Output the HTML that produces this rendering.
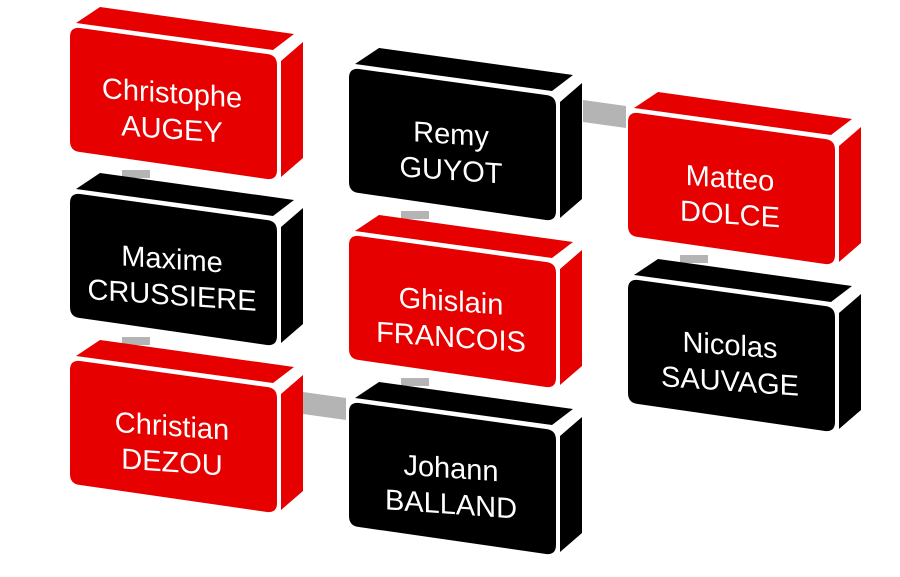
<!DOCTYPE html>
<html><head><meta charset="utf-8"><style>html,body{margin:0;padding:0;background:#fff}svg{display:block}</style></head>
<body>
<svg width="900" height="577" viewBox="0 0 900 577" xmlns="http://www.w3.org/2000/svg">
<defs>
<g id="blk">
<polygon points="6,-4 203,23 224,7 30,-20"/>
<polygon points="211,34 233,15 233,131 211,150"/>
<path d="M10,1 L197,27 Q207,28 207,38 L207,143 Q207,153 197,152 L10,125 Q0,124 0,114 L0,10 Q0,0 10,1 Z"/>
</g>
</defs>
<g fill="#b4b4b4">
<rect x="122" y="170" width="28" height="8"/>
<rect x="122" y="337" width="28" height="8"/>
<rect x="401" y="211" width="28" height="8"/>
<rect x="401" y="378" width="28" height="8"/>
<rect x="680" y="255" width="28" height="8"/>
<polygon points="583,100 626,106 626,128 583,122"/>
<polygon points="303,392 346,398 346,420 303,414"/>
</g>
<g font-family="Liberation Sans, sans-serif" font-size="29" text-anchor="middle" fill="#fff">
<g transform="translate(70,27)"><use href="#blk" fill="#e60000"/><g transform="translate(103 77) skewY(4) translate(-103 -77)"><text x="102" y="76">Christophe</text><text x="102" y="112">AUGEY</text></g></g>
<g transform="translate(70,193)"><use href="#blk" fill="#000"/><g transform="translate(103 77) skewY(4) translate(-103 -77)"><text x="102" y="76">Maxime</text><text x="102" y="112">CRUSSIERE</text></g></g>
<g transform="translate(70,360)"><use href="#blk" fill="#e60000"/><g transform="translate(103 77) skewY(4) translate(-103 -77)"><text x="102" y="76">Christian</text><text x="102" y="112">DEZOU</text></g></g>
<g transform="translate(349,68)"><use href="#blk" fill="#000"/><g transform="translate(103 77) skewY(4) translate(-103 -77)"><text x="102" y="76">Remy</text><text x="102" y="112">GUYOT</text></g></g>
<g transform="translate(349,235)"><use href="#blk" fill="#e60000"/><g transform="translate(103 77) skewY(4) translate(-103 -77)"><text x="102" y="76">Ghislain</text><text x="102" y="112">FRANCOIS</text></g></g>
<g transform="translate(349,402)"><use href="#blk" fill="#000"/><g transform="translate(103 77) skewY(4) translate(-103 -77)"><text x="102" y="76">Johann</text><text x="102" y="112">BALLAND</text></g></g>
<g transform="translate(628,112)"><use href="#blk" fill="#e60000"/><g transform="translate(103 77) skewY(4) translate(-103 -77)"><text x="102" y="76">Matteo</text><text x="102" y="112">DOLCE</text></g></g>
<g transform="translate(628,279)"><use href="#blk" fill="#000"/><g transform="translate(103 77) skewY(4) translate(-103 -77)"><text x="102" y="76">Nicolas</text><text x="102" y="112">SAUVAGE</text></g></g>
</g>
</svg>
</body></html>
